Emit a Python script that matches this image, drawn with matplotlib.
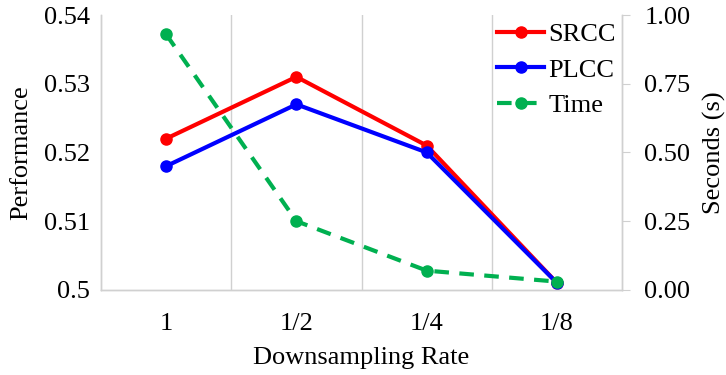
import numpy as np
import matplotlib
matplotlib.use("Agg")
import matplotlib.pyplot as plt

plt.rcParams['font.family'] = ['Liberation Serif', 'DejaVu Serif']

rates = ['1', '1/2', '1/4', '1/8']
srcc = [0.522, 0.531, 0.521, 0.501]
plcc = [0.518, 0.527, 0.520, 0.501]
time_s = [0.93, 0.25, 0.07, 0.03]

fs = 19
grey = '#d0d0d0'

fig = plt.figure(figsize=(7.26, 3.75), dpi=100)
ax = fig.add_axes([0.139, 0.227, 0.718, 0.733])
ax2 = ax.twinx()

x = np.arange(len(rates))
l1, = ax.plot(x, srcc, color='#ff0000', lw=3, marker='o', ms=8, label='SRCC', zorder=3)
l2, = ax.plot(x, plcc, color='#0000ff', lw=3, marker='o', ms=8, label='PLCC', zorder=3)
l3, = ax2.plot(x, time_s, color='#00b050', lw=3, marker='o', ms=8, dashes=(3.5, 2.5), label='Time')

ax.set_xlim(-0.5, len(rates) - 0.5)
ax.set_ylim(0.5, 0.54)
ax.set_yticks([0.5, 0.51, 0.52, 0.53, 0.54])
ax.set_yticklabels(['0.5', '0.51', '0.52', '0.53', '0.54'])
ax2.set_ylim(0, 1.0)
ax2.set_yticks([0, 0.25, 0.5, 0.75, 1.0])
ax2.set_yticklabels(['0.00', '0.25', '0.50', '0.75', '1.00'])

ax.set_xticks(x)
ax.set_xticklabels(rates)
for b in np.arange(0.5, len(rates) - 0.5, 1):
    ax.axvline(b, color=grey, lw=1, zorder=0)

ax.tick_params(axis='both', length=0, labelsize=fs, pad=8)
ax.tick_params(axis='x', pad=17)
ax2.tick_params(axis='y', length=6, color=grey, labelsize=fs, pad=10)

for a in (ax, ax2):
    a.spines['top'].set_visible(False)
    for s in ('left', 'right', 'bottom'):
        a.spines[s].set_color(grey)
        a.spines[s].set_linewidth(1)

ax.set_xlabel('Downsampling Rate', fontsize=fs, labelpad=8)
ax.set_ylabel('Performance', fontsize=fs, labelpad=8)
ax2.set_ylabel('Seconds (s)', fontsize=fs, labelpad=9)

ax.legend(handles=[l1, l2, l3], loc='upper right', bbox_to_anchor=(1.008, 1.01),
          frameon=False, fontsize=fs, handlelength=1.8, handletextpad=0.15,
          labelspacing=0.45, borderaxespad=0.0)

fig.savefig('out.png', dpi=100)
